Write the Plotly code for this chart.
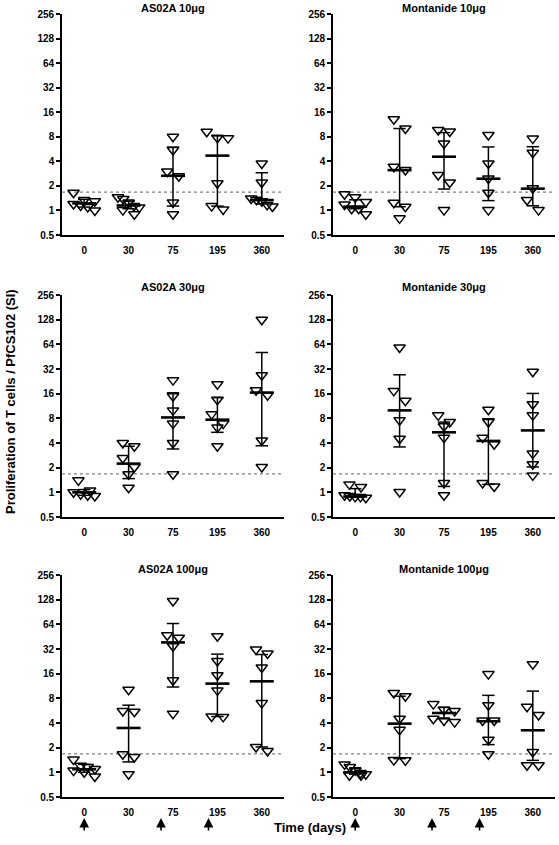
import math
import plotly.graph_objects as go

# ---------------- data ----------------
categories = ["0", "30", "75", "195", "360"]
y_tick_values = [0.5, 1, 2, 4, 8, 16, 32, 64, 128, 256]
y_tick_labels = ["0.5", "1", "2", "4", "8", "16", "32", "64", "128", "256"]
threshold = 1.68
panel_titles = ["AS02A 10\u03bcg", "Montanide 10\u03bcg",
                "AS02A 30\u03bcg", "Montanide 30\u03bcg",
                "AS02A 100\u03bcg", "Montanide 100\u03bcg"]

as02a_10 = [
    [1.65, 1.34, 1.3, 1.2, 1.15, 1.1, 1.0],
    [1.45, 1.38, 1.25, 1.13, 1.09, 1.01, 0.90],
    [8.0, 5.5, 3.0, 2.62, 1.25, 0.90],
    [9.2, 7.8, 7.7, 2.15, 1.13, 1.03],
    [3.77, 2.2, 1.4, 1.35, 1.3, 1.17, 1.12],
]
as02a_10_median = [1.22, 1.15, 2.66, 4.7, 1.34]
as02a_10_q1 = [1.1, 1.05, 1.13, 1.13, 1.2]
as02a_10_q3 = [1.37, 1.3, 5.97, 8.2, 2.9]

montanide_10 = [
    [1.58, 1.45, 1.27, 1.18, 1.05, 1.05, 0.90],
    [13.1, 10.1, 3.44, 3.13, 1.24, 1.11, 0.80],
    [9.7, 9.3, 6.6, 2.72, 2.2, 1.01],
    [8.4, 3.76, 2.47, 1.65, 1.01],
    [7.6, 5.1, 1.87, 1.34, 1.01],
]
montanide_10_median = [1.11, 3.12, 4.56, 2.45, 1.85]
montanide_10_q1 = [1.05, 1.11, 1.83, 1.32, 1.14]
montanide_10_q3 = [1.35, 10.1, 9.0, 6.0, 6.05]

as02a_30 = [
    [1.4, 1.05, 1.0, 0.95, 0.92, 0.9],
    [4.0, 3.65, 2.63, 2.04, 1.66, 1.14],
    [23.4, 14.9, 10.0, 6.9, 4.0, 1.66],
    [20.9, 13.5, 9.0, 6.9, 6.2, 3.65],
    [128, 26.9, 17.6, 15.3, 4.3, 2.04],
]
as02a_30_median = [1.0, 2.24, 8.2, 7.7, 16.5]
as02a_30_q1 = [0.92, 1.47, 3.38, 5.4, 3.7]
as02a_30_q3 = [1.08, 3.65, 16.4, 14.3, 50.9]

montanide_30 = [
    [1.25, 1.16, 0.92, 0.9, 0.88, 0.88, 0.86],
    [58.6, 17.3, 13.1, 7.6, 4.5, 1.01],
    [8.7, 7.2, 6.4, 4.65, 1.3, 0.92],
    [10.2, 7.2, 4.65, 3.86, 1.3, 1.18],
    [29.6, 11.9, 8.7, 2.97, 2.2, 1.61],
]
montanide_30_median = [0.89, 10.0, 5.4, 4.24, 5.7]
montanide_30_q1 = [0.87, 3.58, 1.18, 1.25, 2.04]
montanide_30_q3 = [1.11, 27.2, 7.2, 7.9, 16.1]

as02a_100 = [
    [1.43, 1.2, 1.16, 1.1, 1.05, 1.0, 0.89],
    [10.2, 5.6, 5.5, 1.66, 1.54, 0.95],
    [123, 47, 44, 34.5, 13.3, 5.2],
    [45.8, 22.8, 15.3, 10.0, 4.8, 4.75],
    [31.5, 28.2, 19.0, 7.0, 2.04, 1.82],
]
as02a_100_median = [1.09, 3.48, 38.5, 12.1, 12.9]
as02a_100_q1 = [1.0, 1.34, 11.0, 4.8, 2.04]
as02a_100_q3 = [1.25, 6.6, 65.5, 27.7, 27.4]

montanide_100 = [
    [1.25, 1.16, 1.06, 0.98, 0.95, 0.92, 0.92],
    [9.3, 8.5, 4.5, 3.3, 1.41, 1.4],
    [6.8, 5.8, 5.6, 4.5, 4.3, 4.1],
    [15.8, 6.6, 4.3, 4.3, 2.5, 1.66],
    [20.9, 6.3, 5.0, 1.77, 1.22, 1.22],
]
montanide_100_median = [1.0, 3.93, 5.3, 4.2, 3.26]
montanide_100_q1 = [0.95, 1.47, 4.5, 2.18, 1.4]
montanide_100_q3 = [1.11, 8.5, 6.2, 8.7, 9.8]

# vaccination arrows (in category-axis units of the bottom panels)
vaccination_arrows = [0.0, 1.73, 2.8]

panels = [
    (as02a_10, as02a_10_median, as02a_10_q1, as02a_10_q3),
    (montanide_10, montanide_10_median, montanide_10_q1, montanide_10_q3),
    (as02a_30, as02a_30_median, as02a_30_q1, as02a_30_q3),
    (montanide_30, montanide_30_median, montanide_30_q1, montanide_30_q3),
    (as02a_100, as02a_100_median, as02a_100_q1, as02a_100_q3),
    (montanide_100, montanide_100_median, montanide_100_q1, montanide_100_q3),
]

# ---------------- layout geometry ----------------
W, H = 559, 845
FONT = "Arial, Liberation Sans, sans-serif"
col_px = [(62, 284), (333, 555)]
row_px = [(14, 235), (295, 517), (575, 797)]
title_y_px = [8, 287, 569]


def swarm(vals, h=0.42, s=0.26, maxw=0.24):
    order = sorted(range(len(vals)), key=lambda i: -vals[i])
    rows, cur, start = [], [], None
    for i in order:
        lv = math.log2(vals[i])
        if cur and start - lv <= h:
            cur.append(i)
        else:
            if cur:
                rows.append(cur)
            cur, start = [i], lv
    if cur:
        rows.append(cur)
    off = [0.0] * len(vals)
    for r in rows:
        n = len(r)
        if n == 1:
            continue
        sp = min(s, 2 * maxw / (n - 1))
        for k, i in enumerate(r):
            off[i] = (k - (n - 1) / 2) * sp
    return off


fig = go.Figure()
layout = dict(width=W, height=H, margin=dict(l=0, r=0, t=0, b=0, autoexpand=False),
              template="none",
              paper_bgcolor="white", plot_bgcolor="white", showlegend=False,
              font=dict(family=FONT, color="black"))
annotations = []

for p, (groups, med, q1, q3) in enumerate(panels):
    r, c = divmod(p, 2)
    k = p + 1
    xs = "" if k == 1 else str(k)
    xa, ya = "x" + xs, "y" + xs
    x0, x1 = col_px[c]
    yt, yb = row_px[r]
    layout["xaxis" + xs] = dict(
        domain=[x0 / W, x1 / W], anchor=ya, range=[-0.5, 4.5], automargin=False,
        tickmode="array", tickvals=list(range(len(categories))),
        ticktext=["<b>%s</b>" % t for t in categories],
        ticks="outside", ticklen=5, tickcolor="rgba(0,0,0,0)",
        showline=True, linewidth=1.6, linecolor="black",
        showgrid=False, zeroline=False, tickfont=dict(size=10, family=FONT, color="black"))
    layout["yaxis" + xs] = dict(
        domain=[1 - yb / H, 1 - yt / H], anchor=xa, type="log", automargin=False,
        range=[math.log10(0.5), math.log10(256)],
        tickmode="array", tickvals=y_tick_values,
        ticktext=["<b>%s</b>" % t for t in y_tick_labels],
        ticks="outside", ticklen=4, tickwidth=1.5, tickcolor="black",
        showline=True, linewidth=1.6, linecolor="black",
        showgrid=False, zeroline=False, tickfont=dict(size=10, family=FONT, color="black"))

    # dotted threshold line
    fig.add_trace(go.Scatter(x=[-0.5, 4.5], y=[threshold, threshold], mode="lines",
                             line=dict(color="#808080", width=1.2, dash="dot"),
                             xaxis=xa, yaxis=ya, hoverinfo="skip", cliponaxis=False))
    # points
    px, py = [], []
    for gi, vals in enumerate(groups):
        offs = swarm(vals)
        px += [gi + o for o in offs]
        py += vals
    fig.add_trace(go.Scatter(x=px, y=py, mode="markers", cliponaxis=False,
                             marker=dict(symbol="triangle-down-open", size=10, color="black",
                                         line=dict(width=1.5, color="black")),
                             xaxis=xa, yaxis=ya))
    # IQR whiskers
    wx, wy = [], []
    cap = 0.14
    for gi in range(len(categories)):
        wx += [gi, gi, None, gi - cap, gi + cap, None, gi - cap, gi + cap, None]
        wy += [q1[gi], q3[gi], None, q1[gi], q1[gi], None, q3[gi], q3[gi], None]
    fig.add_trace(go.Scatter(x=wx, y=wy, mode="lines", line=dict(color="black", width=1.5),
                             xaxis=xa, yaxis=ya, hoverinfo="skip"))
    # medians
    mx, my = [], []
    half = 0.27
    for gi in range(len(categories)):
        mx += [gi - half, gi + half, None]
        my += [med[gi], med[gi], None]
    fig.add_trace(go.Scatter(x=mx, y=my, mode="lines", line=dict(color="black", width=2.6),
                             xaxis=xa, yaxis=ya, hoverinfo="skip"))

    # panel title
    annotations.append(dict(text="<b>%s</b>" % panel_titles[p], x=(x0 + x1) / 2 / W,
                            y=1 - title_y_px[r] / H, xref="paper", yref="paper",
                            xanchor="center", yanchor="middle", showarrow=False,
                            font=dict(size=11, family=FONT, color="black")))

    # vaccination arrows on bottom row
    if r == 2:
        for ax_pos in vaccination_arrows:
            annotations.append(dict(x=ax_pos, y=1 - 818 / H, xref=xa, yref="paper",
                                    ax=0, ay=14, text="", showarrow=True,
                                    arrowhead=2, arrowsize=1.2, arrowwidth=1.6,
                                    arrowcolor="black"))

annotations.append(dict(text="<b>Proliferation of T cells / PfCS102 (SI)</b>",
                        x=10 / W, y=1 - 402 / H, xref="paper", yref="paper",
                        textangle=-90, showarrow=False, xanchor="center", yanchor="middle",
                        font=dict(size=13, family=FONT, color="black")))
annotations.append(dict(text="<b>Time (days)</b>", x=310 / W, y=1 - 827 / H,
                        xref="paper", yref="paper", showarrow=False,
                        xanchor="center", yanchor="middle",
                        font=dict(size=13, family=FONT, color="black")))

layout["annotations"] = annotations
fig.update_layout(**layout)
fig.write_html("out.html", config={"displayModeBar": False},
               post_script="document.body.style.margin='0';document.body.style.overflow='hidden';")
